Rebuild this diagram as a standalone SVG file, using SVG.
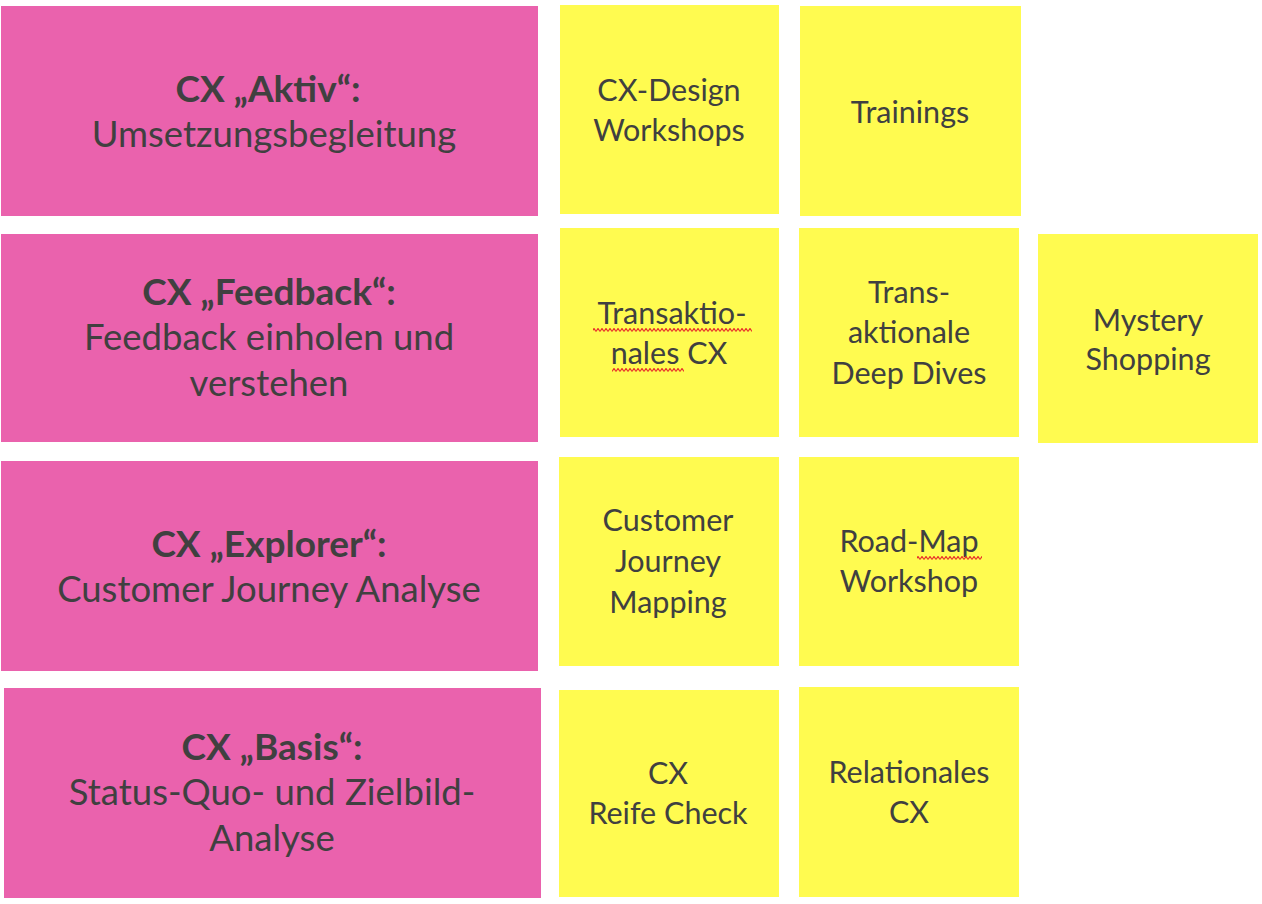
<svg xmlns="http://www.w3.org/2000/svg" width="1262" height="904" viewBox="0 0 1262 904">
<style>
.pink{fill:#EA62AD}
.yel{fill:#FFFB50}
text{font-family:Lato,"Liberation Sans",sans-serif;fill:#404040;text-anchor:middle}
.pt{font-size:36.5px}
.pb{font-size:37px;font-weight:bold}
.yt{font-size:30.5px}
</style>
<defs>
<pattern id="squig" patternUnits="userSpaceOnUse" x="0" y="0" width="4" height="4">
<polyline points="0,3.5 2,0.5 4,3.5" fill="none" stroke="#E8322A" stroke-width="1.2"/>
</pattern>
</defs>
<rect width="1262" height="904" fill="#FFFFFF"/>

<g id="pink-aktiv">
<rect class="pink" x="1" y="6" width="537" height="210"/>
<text class="pb" x="268" y="102">CX „Aktiv“:</text>
<text class="pt" x="274" y="147">Umsetzungsbegleitung</text>
</g>
<g id="pink-feedback">
<rect class="pink" x="1" y="234" width="537" height="208"/>
<text class="pb" x="269" y="305">CX „Feedback“:</text>
<text class="pt" x="269" y="350">Feedback einholen und</text>
<text class="pt" x="269" y="396">verstehen</text>
</g>
<g id="pink-explorer">
<rect class="pink" x="1" y="461" width="537" height="210"/>
<text class="pb" x="269" y="557">CX „Explorer“:</text>
<text class="pt" x="269" y="602">Customer Journey Analyse</text>
</g>
<g id="pink-basis">
<rect class="pink" x="4" y="688" width="537" height="210"/>
<text class="pb" x="272" y="760">CX „Basis“:</text>
<text class="pt" x="272" y="805">Status-Quo- und Zielbild-</text>
<text class="pt" x="272" y="851">Analyse</text>
</g>

<g id="y-cxdesign">
<rect class="yel" x="560" y="5" width="219" height="209"/>
<text class="yt" x="669" y="101">CX-Design</text>
<text class="yt" x="669" y="141">Workshops</text>
</g>
<g id="y-trainings">
<rect class="yel" x="800" y="6" width="221" height="210"/>
<text class="yt" x="910" y="123">Trainings</text>
</g>
<g id="y-transaktionales">
<rect class="yel" x="560" y="228" width="219" height="209"/>
<text class="yt" x="672" y="324">Transaktio-</text>
<text class="yt" x="669" y="364">nales CX</text>
<rect x="593" y="328" width="159" height="4" fill="url(#squig)"/>
<rect x="612" y="368" width="72" height="4" fill="url(#squig)"/>
</g>
<g id="y-deepdives">
<rect class="yel" x="799" y="228" width="220" height="209"/>
<text class="yt" x="909" y="303">Trans-</text>
<text class="yt" x="909" y="343">aktionale</text>
<text class="yt" x="909" y="384">Deep Dives</text>
</g>
<g id="y-mystery">
<rect class="yel" x="1038" y="234" width="220" height="209"/>
<text class="yt" x="1148" y="331">Mystery</text>
<text class="yt" x="1148" y="370">Shopping</text>
</g>
<g id="y-cjm">
<rect class="yel" x="559" y="457" width="220" height="209"/>
<text class="yt" x="668" y="531">Customer</text>
<text class="yt" x="668" y="572">Journey</text>
<text class="yt" x="668" y="613">Mapping</text>
</g>
<g id="y-roadmap">
<rect class="yel" x="799" y="457" width="220" height="209"/>
<text class="yt" x="909" y="552">Road-Map</text>
<text class="yt" x="909" y="592">Workshop</text>
<rect x="917" y="556" width="65" height="4" fill="url(#squig)"/>
</g>
<g id="y-reifecheck">
<rect class="yel" x="559" y="690" width="220" height="207"/>
<text class="yt" x="668" y="784">CX</text>
<text class="yt" x="668" y="824">Reife Check</text>
</g>
<g id="y-relationales">
<rect class="yel" x="799" y="687" width="220" height="210"/>
<text class="yt" x="909" y="783">Relationales</text>
<text class="yt" x="909" y="823">CX</text>
</g>
<g id="connectors"/>
</svg>
